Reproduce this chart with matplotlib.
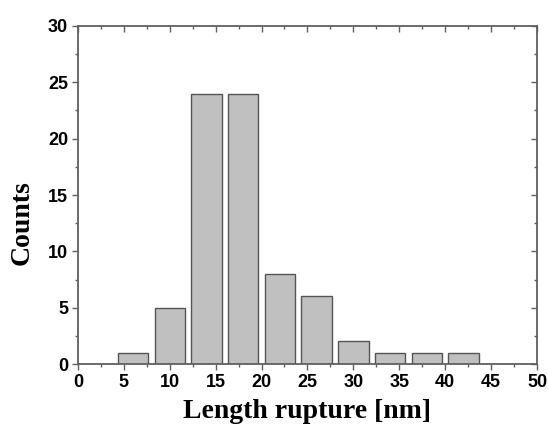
import numpy as np
import matplotlib.pyplot as plt
from matplotlib.ticker import MultipleLocator

plt.rcParams["font.family"] = "Liberation Sans"
plt.rcParams["font.weight"] = "bold"

# histogram of rupture lengths
bin_centers = [6, 10, 14, 18, 22, 26, 30, 34, 38, 42]
counts = [1, 5, 24, 24, 8, 6, 2, 1, 1, 1]

fig = plt.figure(figsize=(5.48, 4.26), dpi=100)
ax = fig.add_axes([0.142, 0.1455, 0.838, 0.7935])

ax.bar(bin_centers, counts, width=3.3, color="#c0c0c0", edgecolor="#555555", linewidth=1.0)

ax.set_xlim(0, 50)
ax.set_ylim(0, 30)
ax.xaxis.set_major_locator(MultipleLocator(5))
ax.xaxis.set_minor_locator(MultipleLocator(2.5))
ax.yaxis.set_major_locator(MultipleLocator(5))
ax.yaxis.set_minor_locator(MultipleLocator(2.5))

spine_col = "#606060"
for s in ax.spines.values():
    s.set_color(spine_col)
    s.set_linewidth(1.3)

ax.tick_params(which="both", direction="out", color=spine_col, width=1.0, labelsize=13)
ax.tick_params(which="major", length=4.5, pad=2.5)
ax.tick_params(which="minor", length=2.5)

# top and right ticks point inward
top = ax.secondary_xaxis("top")
right = ax.secondary_yaxis("right")
top.xaxis.set_major_locator(MultipleLocator(5))
top.xaxis.set_minor_locator(MultipleLocator(2.5))
right.yaxis.set_major_locator(MultipleLocator(5))
right.yaxis.set_minor_locator(MultipleLocator(2.5))
for sec in (top, right):
    sec.tick_params(which="both", direction="in", color=spine_col, width=1.0,
                    labeltop=False, labelright=False)
    sec.tick_params(which="major", length=4.5)
    sec.tick_params(which="minor", length=2.5)
    for s in sec.spines.values():
        s.set_visible(False)

ax.set_xlabel("Length rupture [nm]", family="Liberation Serif", fontweight="bold", fontsize=20, labelpad=6)
ax.set_ylabel("Counts", family="Liberation Serif", fontweight="bold", fontsize=20, va="center")
ax.yaxis.set_label_coords(-0.122, 0.417)

fig.savefig("out.png", dpi=100)
